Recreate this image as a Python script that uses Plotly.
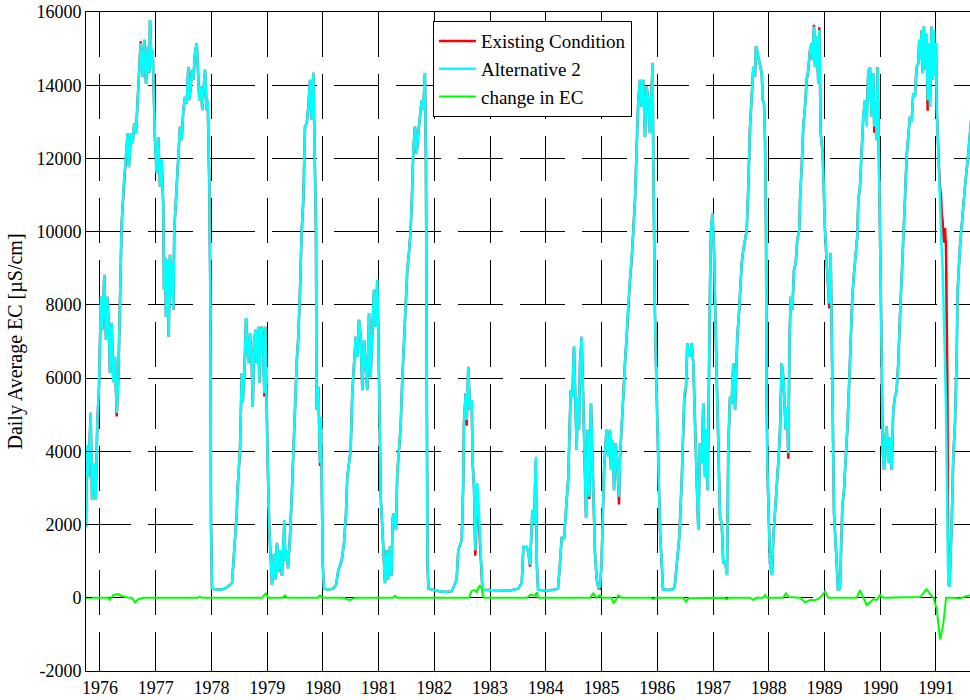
import plotly.graph_objects as go

# ---------------- data ----------------
# time in decimal years
years = [
    1975.749, 1975.762, 1975.790, 1975.833, 1975.857, 1975.892, 1975.923, 1975.952, 1975.982,
    1976.000, 1976.018, 1976.041, 1976.077, 1976.108, 1976.131, 1976.161, 1976.179, 1976.210,
    1976.239, 1976.269, 1976.300, 1976.328, 1976.346, 1976.371, 1976.389, 1976.431, 1976.467,
    1976.497, 1976.520, 1976.556, 1976.587, 1976.615, 1976.646, 1976.669, 1976.687, 1976.705,
    1976.730, 1976.766, 1976.795, 1976.825, 1976.861, 1976.885, 1976.897, 1976.928, 1976.946,
    1976.969, 1976.987, 1977.017, 1977.046, 1977.077, 1977.107, 1977.136, 1977.149, 1977.167,
    1977.184, 1977.208, 1977.233, 1977.256, 1977.279, 1977.305, 1977.315, 1977.333, 1977.376,
    1977.418, 1977.436, 1977.466, 1977.495, 1977.525, 1977.556, 1977.585, 1977.603, 1977.628,
    1977.651, 1977.674, 1977.705, 1977.736, 1977.754, 1977.782, 1977.813, 1977.836, 1977.867,
    1977.885, 1977.915, 1977.933, 1977.962, 1977.974, 1977.982, 1977.992, 1978.010, 1978.064,
    1978.153, 1978.243, 1978.333, 1978.369, 1978.393, 1978.454, 1978.465, 1978.501, 1978.513,
    1978.544, 1978.562, 1978.590, 1978.621, 1978.644, 1978.662, 1978.692, 1978.723, 1978.741,
    1978.764, 1978.795, 1978.813, 1978.841, 1978.859, 1978.884, 1978.908, 1978.931, 1978.949,
    1978.967, 1978.980, 1978.991, 1979.009, 1979.038, 1979.063, 1979.086, 1979.122, 1979.149,
    1979.176, 1979.203, 1979.230, 1979.266, 1979.289, 1979.307, 1979.329, 1979.350, 1979.373,
    1979.409, 1979.440, 1979.468, 1979.499, 1979.529, 1979.559, 1979.589, 1979.620, 1979.649,
    1979.679, 1979.710, 1979.738, 1979.769, 1979.799, 1979.828, 1979.846, 1979.858, 1979.876,
    1979.883, 1979.889, 1979.917, 1979.948, 1979.966, 1979.996, 1980.019, 1980.091, 1980.181,
    1980.235, 1980.276, 1980.337, 1980.378, 1980.414, 1980.437, 1980.473, 1980.498, 1980.527,
    1980.563, 1980.588, 1980.617, 1980.647, 1980.678, 1980.707, 1980.737, 1980.768, 1980.796,
    1980.827, 1980.857, 1980.886, 1980.917, 1980.947, 1980.976, 1980.994, 1981.012, 1981.037,
    1981.065, 1981.096, 1981.114, 1981.144, 1981.167, 1981.203, 1981.230, 1981.252, 1981.275,
    1981.311, 1981.334, 1981.365, 1981.395, 1981.424, 1981.454, 1981.490, 1981.514, 1981.544,
    1981.575, 1981.598, 1981.625, 1981.652, 1981.682, 1981.711, 1981.741, 1981.772, 1981.800,
    1981.831, 1981.849, 1981.861, 1981.876, 1981.893, 1982.011, 1982.190, 1982.316, 1982.400,
    1982.429, 1982.490, 1982.518, 1982.531, 1982.562, 1982.580, 1982.608, 1982.639, 1982.669,
    1982.687, 1982.711, 1982.734, 1982.770, 1982.806, 1982.836, 1982.863, 1983.000, 1983.179,
    1983.358, 1983.502, 1983.568, 1983.597, 1983.658, 1983.687, 1983.717, 1983.759, 1983.789,
    1983.820, 1983.838, 1983.861, 1983.985, 1984.111, 1984.218, 1984.254, 1984.285, 1984.326,
    1984.374, 1984.403, 1984.446, 1984.475, 1984.505, 1984.523, 1984.554, 1984.572, 1984.595,
    1984.613, 1984.643, 1984.672, 1984.703, 1984.721, 1984.751, 1984.780, 1984.810, 1984.841,
    1984.864, 1984.882, 1984.913, 1984.945, 1984.972, 1984.999, 1985.020, 1985.044, 1985.080,
    1985.092, 1985.121, 1985.151, 1985.169, 1985.200, 1985.223, 1985.254, 1985.282, 1985.313,
    1985.331, 1985.361, 1985.390, 1985.420, 1985.451, 1985.480, 1985.510, 1985.540, 1985.569,
    1985.600, 1985.630, 1985.659, 1985.689, 1985.720, 1985.748, 1985.779, 1985.809, 1985.838,
    1985.868, 1985.899, 1985.917, 1985.927, 1985.940, 1985.958, 1985.976, 1986.018, 1986.048,
    1986.079, 1986.102, 1986.192, 1986.282, 1986.312, 1986.348, 1986.395, 1986.438, 1986.467,
    1986.485, 1986.515, 1986.538, 1986.574, 1986.617, 1986.646, 1986.676, 1986.707, 1986.736,
    1986.766, 1986.797, 1986.825, 1986.856, 1986.886, 1986.904, 1986.927, 1986.945, 1986.963,
    1986.990, 1987.017, 1987.036, 1987.066, 1987.095, 1987.125, 1987.156, 1987.184, 1987.215,
    1987.251, 1987.274, 1987.305, 1987.332, 1987.364, 1987.395, 1987.413, 1987.436, 1987.466,
    1987.484, 1987.515, 1987.544, 1987.574, 1987.605, 1987.633, 1987.664, 1987.694, 1987.723,
    1987.753, 1987.771, 1987.789, 1987.813, 1987.843, 1987.874, 1987.892, 1987.915, 1987.933,
    1987.951, 1987.960, 1987.977, 1988.022, 1988.058, 1988.082, 1988.112, 1988.142, 1988.171,
    1988.202, 1988.232, 1988.261, 1988.304, 1988.327, 1988.351, 1988.372, 1988.394, 1988.423,
    1988.453, 1988.484, 1988.512, 1988.548, 1988.561, 1988.591, 1988.620, 1988.650, 1988.681,
    1988.709, 1988.740, 1988.770, 1988.788, 1988.812, 1988.830, 1988.860, 1988.889, 1988.907,
    1988.932, 1988.968, 1988.991, 1989.009, 1989.040, 1989.068, 1989.086, 1989.111, 1989.129,
    1989.147, 1989.171, 1989.219, 1989.242, 1989.278, 1989.296, 1989.320, 1989.350, 1989.381,
    1989.409, 1989.445, 1989.471, 1989.499, 1989.530, 1989.560, 1989.589, 1989.607, 1989.637,
    1989.668, 1989.696, 1989.727, 1989.757, 1989.786, 1989.804, 1989.816, 1989.847, 1989.875,
    1989.893, 1989.918, 1989.936, 1989.954, 1989.977, 1989.995, 1990.009, 1990.026, 1990.044,
    1990.068, 1990.086, 1990.116, 1990.145, 1990.175, 1990.206, 1990.234, 1990.265, 1990.295,
    1990.324, 1990.354, 1990.385, 1990.413, 1990.444, 1990.474, 1990.503, 1990.533, 1990.564,
    1990.592, 1990.623, 1990.653, 1990.682, 1990.700, 1990.725, 1990.743, 1990.761, 1990.784,
    1990.815, 1990.833, 1990.851, 1990.874, 1990.892, 1990.923, 1990.941, 1990.964, 1990.982,
    1991.001, 1991.013, 1991.031, 1991.042, 1991.055, 1991.073, 1991.091, 1991.103, 1991.119,
    1991.132, 1991.150, 1991.162, 1991.180, 1991.204, 1991.222, 1991.243, 1991.265, 1991.283,
    1991.311, 1991.342, 1991.372, 1991.390, 1991.431, 1991.490, 1991.521, 1991.580, 1991.611,
    1991.647,
]

# Alternative 2, daily average EC (uS/cm)
alt2_ec = [
    1930, 4170, 3300, 5050, 2670, 3680, 2670, 4770, 5760,
    6690, 8220, 7320, 8820, 7040, 8220, 7320, 6140, 7510,
    5890, 6580, 5050, 5950, 7320, 9230, 10230, 11410, 12140,
    12690, 11760, 12690, 12420, 12960, 12690, 13320, 13870, 14500,
    15150, 14230, 15240, 14050, 15060, 14340, 15780, 14500, 14960,
    13590, 12500, 11600, 12580, 11230, 11960, 10670, 8410, 9310,
    7670, 9230, 7130, 9370, 8220, 9150, 7860, 10050, 11230,
    12320, 12870, 12500, 13320, 13680, 13500, 14500, 13590, 13960,
    14420, 14150, 14880, 15150, 14500, 13590, 13960, 13320, 14050,
    14420, 13320, 13590, 11230, 9770, 7950, 2000, 250, 230,
    220, 250, 350, 400, 940, 2310, 2860, 3680, 4090,
    6140, 5320, 6140, 7640, 6850, 6410, 7230, 6410, 5210,
    7040, 7320, 6410, 7400, 5870, 7320, 7400, 6770, 5590,
    7400, 6140, 4940, 3680, 1850, 940, 350, 1200, 500,
    1500, 700, 1300, 600, 1400, 2120, 1000, 1300, 800,
    1660, 2760, 4130, 5140, 6410, 7130, 8410, 10050, 10870,
    12870, 12960, 13410, 14150, 13050, 14340, 12780, 12140, 9960,
    6140, 5140, 5760, 3680, 4940, 940, 250, 220, 250,
    350, 750, 1020, 1480, 2300, 3290, 3680, 4040, 5590,
    6580, 7130, 6580, 7590, 7130, 5670, 7040, 6410, 5670,
    7780, 6040, 7230, 8410, 7400, 8680, 7320, 4590, 2760,
    1940, 940, 400, 1300, 500, 1400, 600, 2190, 2300,
    1850, 3390, 4040, 4680, 5950, 7040, 7950, 8960, 9420,
    10050, 11000, 12300, 12870, 12140, 12690, 13140, 13590, 13320,
    14330, 11760, 6000, 1000, 250, 200, 160, 180, 500,
    1300, 1570, 3130, 4770, 5590, 4860, 6310, 5140, 5400,
    3680, 3030, 1300, 3130, 2120, 940, 220, 210, 200,
    200, 250, 400, 1390, 1390, 1220, 900, 2400, 2030,
    3850, 940, 220, 200, 210, 250, 940, 1660, 1600,
    2580, 3290, 5670, 5490, 6860, 5490, 4040, 5490, 4590,
    6410, 7130, 5320, 3680, 2190, 4590, 2760, 5320, 3680,
    2300, 1220, 500, 260, 300, 900, 2120, 3490, 4390,
    4590, 3850, 4590, 3490, 4310, 2940, 4220, 3680, 2760,
    3850, 4770, 5490, 6410, 7130, 8040, 8680, 9230, 9960,
    10870, 12320, 13590, 14150, 13410, 14150, 12590, 13960, 13590,
    12690, 13870, 14610, 12140, 10050, 7780, 6410, 3680, 1850,
    940, 230, 210, 230, 300, 940, 1660, 3210, 4590,
    5590, 5760, 6950, 6580, 6950, 6410, 4590, 3210, 1850,
    4220, 3680, 5320, 3290, 4590, 2940, 6690, 8410, 10050,
    10500, 9500, 7670, 6040, 4220, 2190, 2030, 940, 1020,
    620, 4130, 5490, 5300, 6410, 5140, 6140, 7130, 7780,
    8410, 9150, 9500, 9780, 10050, 11230, 12870, 13680, 14500,
    14230, 15060, 14950, 14780, 14600, 14320, 13590, 13500, 12500,
    9960, 5760, 3490, 940, 620, 1660, 2300, 2850, 3680,
    4590, 6410, 6040, 4590, 5200, 3950, 7040, 8220, 7860,
    8960, 9150, 9780, 10050, 10870, 11760, 12870, 13410, 14150,
    14420, 14960, 15150, 14690, 15600, 14500, 15330, 14050, 15510,
    12690, 12140, 10870, 10050, 9150, 8410, 8040, 9420, 7320,
    4590, 2300, 940, 210, 250, 1200, 2480, 2940, 3680,
    4590, 5950, 7130, 8220, 8870, 9320, 9870, 10870, 11230,
    12230, 13140, 13590, 12870, 14420, 13590, 14500, 13140, 14330,
    12870, 13590, 12500, 14500, 12320, 10870, 8590, 6410, 4040,
    3490, 4220, 4680, 3680, 4390, 3490, 5140, 5490, 5670,
    6410, 7670, 8680, 9780, 10870, 12050, 12500, 13140, 13000,
    13770, 13700, 14500, 14600, 15240, 14690, 15510, 14330, 15600,
    14420, 15420, 13590, 15150, 13410, 15600, 14150, 15510, 14240,
    15150, 13410, 12500, 12100, 11700, 10800, 10100, 9500, 9000,
    8400, 7500, 6500, 5200, 3000, 400, 300, 1200, 2040,
    3850, 4760, 6580, 8410, 9600, 10800, 11230, 12140, 12770,
    13300,
]

# Existing Condition, daily average EC (uS/cm)
existing_ec = [
    1930, 4170, 3300, 5050, 2670, 3680, 2670, 4770, 5760,
    6690, 8220, 7320, 8820, 7040, 8220, 7320, 6140, 7510,
    5890, 6580, 4950, 5950, 7320, 9230, 10230, 11300, 12140,
    12690, 11760, 12690, 12420, 12960, 12690, 13320, 14000, 14500,
    15200, 14230, 15240, 14050, 15060, 14340, 15780, 14500, 14960,
    13590, 12500, 11600, 12580, 11230, 11960, 10670, 8410, 9310,
    7670, 9230, 7130, 9370, 8220, 9150, 7860, 10050, 11230,
    12320, 12870, 12500, 13320, 13680, 13500, 14500, 13590, 13960,
    14420, 14150, 14880, 15150, 14500, 13590, 13960, 13320, 14050,
    14420, 13320, 13590, 11230, 9770, 7950, 2000, 250, 230,
    220, 250, 350, 400, 940, 2310, 2860, 3680, 4090,
    6140, 5320, 6140, 7640, 6850, 6410, 7230, 6410, 5210,
    7040, 7320, 6410, 7400, 5870, 7320, 7400, 6770, 5500,
    7400, 6140, 4940, 3680, 1850, 940, 350, 1200, 500,
    1500, 700, 1300, 600, 1400, 2000, 1000, 1300, 800,
    1660, 2760, 4130, 5140, 6410, 7130, 8410, 10050, 10870,
    12870, 12960, 13410, 14150, 13050, 14340, 12780, 12140, 9960,
    6140, 5140, 5760, 3600, 4940, 940, 250, 220, 250,
    350, 750, 1020, 1480, 2300, 3290, 3680, 4040, 5590,
    6580, 7130, 6580, 7590, 7130, 5670, 7040, 6410, 5670,
    7780, 6040, 7230, 8410, 7400, 8680, 7320, 4590, 2760,
    1940, 940, 400, 1300, 500, 1400, 600, 2190, 2300,
    1850, 3390, 4040, 4680, 5950, 7040, 7950, 8960, 9420,
    10050, 11000, 12300, 12870, 12140, 12690, 13140, 13590, 13320,
    14330, 11760, 6000, 1000, 250, 200, 160, 180, 500,
    1300, 1570, 3130, 4770, 5590, 4700, 6310, 5140, 5400,
    3680, 3030, 1150, 2900, 1850, 800, 220, 210, 200,
    200, 250, 400, 1390, 1390, 1220, 850, 2400, 2030,
    3750, 940, 220, 200, 210, 250, 940, 1660, 1600,
    2580, 3290, 5670, 5490, 6860, 5490, 4040, 5490, 4590,
    6410, 7130, 5320, 3680, 2190, 4590, 2700, 5320, 3680,
    2300, 1220, 500, 260, 250, 900, 2120, 3490, 4390,
    4590, 3850, 4590, 3490, 4310, 2940, 4220, 3680, 2550,
    3800, 4770, 5490, 6410, 7130, 8040, 8680, 9230, 9960,
    10870, 12320, 13590, 14150, 13410, 14150, 12590, 13960, 13590,
    12690, 13870, 14610, 12140, 10050, 7780, 6410, 3680, 1850,
    940, 230, 210, 230, 300, 940, 1660, 3210, 4590,
    5450, 5760, 6950, 6580, 6950, 6410, 4590, 3210, 1850,
    4220, 3680, 5320, 3290, 4590, 2940, 6690, 8410, 10050,
    10500, 9500, 7670, 6040, 4220, 2190, 2030, 940, 1020,
    620, 4130, 5490, 5300, 6410, 5140, 6140, 7130, 7780,
    8410, 9150, 9500, 9780, 10050, 11230, 12870, 13680, 14500,
    14230, 15060, 14950, 14780, 14600, 14320, 13590, 13500, 12500,
    9960, 5760, 3490, 940, 620, 1660, 2300, 2850, 3680,
    4590, 6410, 6040, 4590, 5200, 3800, 7040, 8220, 7860,
    8960, 9150, 9780, 10050, 10870, 11760, 12870, 13410, 14150,
    14420, 14960, 15150, 14690, 15650, 14500, 15330, 14050, 15580,
    12690, 12140, 10870, 10050, 9150, 8410, 7900, 9420, 7320,
    4590, 2300, 940, 210, 250, 1200, 2480, 2940, 3680,
    4590, 5950, 7130, 8220, 8870, 9320, 9870, 10870, 11230,
    12230, 13140, 13590, 13070, 14420, 13590, 14500, 13140, 14330,
    12700, 13590, 12500, 14500, 12320, 10870, 8590, 6410, 4040,
    3490, 4220, 4680, 3680, 4390, 3490, 5140, 5490, 5670,
    6410, 7670, 8680, 9780, 10870, 12050, 12500, 13140, 13000,
    13770, 13700, 14500, 14600, 15240, 14690, 15510, 14330, 15600,
    14420, 15200, 13300, 15150, 13410, 15600, 14150, 15510, 14240,
    15150, 13410, 12500, 12300, 11760, 11200, 11000, 10500, 10300,
    9900, 9700, 10100, 9600, 6000, 400, 300, 1200, 2040,
    3850, 4760, 6580, 8410, 9600, 10800, 11230, 12140, 12770,
    13300,
]

# change in EC (Alternative 2 minus Existing Condition), uS/cm
change_years = [
    1975.749, 1976.144, 1976.179, 1976.239, 1976.328, 1976.389, 1976.502, 1976.574, 1976.628,
    1976.687, 1976.777, 1977.758, 1977.794, 1977.830, 1978.907, 1978.974, 1979.020, 1979.283,
    1979.319, 1979.355, 1979.912, 1979.948, 1979.984, 1980.378, 1980.426, 1980.486, 1980.558,
    1980.630, 1981.258, 1981.294, 1981.330, 1982.621, 1982.669, 1982.729, 1982.760, 1982.792,
    1982.818, 1982.849, 1982.867, 1982.890, 1983.664, 1983.717, 1983.807, 1983.838, 1983.861,
    1984.794, 1984.853, 1984.902, 1984.972, 1985.008, 1985.182, 1985.211, 1985.250, 1985.300,
    1985.349, 1985.887, 1985.927, 1985.976, 1986.467, 1986.515, 1986.557, 1986.766, 1987.197,
    1987.245, 1987.287, 1987.664, 1987.723, 1987.771, 1987.897, 1987.933, 1987.969, 1988.256,
    1988.309, 1988.363, 1988.561, 1988.650, 1988.740, 1988.830, 1988.901, 1988.950, 1989.009,
    1989.068, 1989.578, 1989.637, 1989.691, 1989.757, 1989.816, 1989.875, 1989.936, 1989.995,
    1990.049, 1990.592, 1990.712, 1990.833, 1990.892, 1990.952, 1991.013, 1991.046, 1991.073,
    1991.103, 1991.132, 1991.162, 1991.180, 1991.311, 1991.431, 1991.551, 1991.611, 1991.647,
]
change_ec = [
    0, 0, -60, 80, 100, 50, 10, 0, -125,
    -40, 0, 0, 30, 0, 0, 120, 0, 0,
    60, 0, 0, 60, 0, 0, -40, -60, -10,
    0, 0, 50, 0, 0, 190, 210, 140, 280,
    330, 260, 80, 0, 0, 80, 60, 150, 0,
    0, 120, 0, 75, 0, 0, -150, -80, 60,
    0, 0, -40, 0, 0, -105, -10, 0, 0,
    -40, 0, 0, -60, 0, 0, 75, 0, 0,
    120, 20, 0, -125, -60, -70, -20, 50, 170,
    0, 0, 210, 40, -200, -120, -40, -60, 75,
    0, 0, 20, 230, 120, 0, -290, -700, -1135,
    -950, -700, -300, 0, 0, -20, 50, 70, 70,
]

x_tick_years = list(range(1976, 1992))
y_tick_values = [-2000, 0, 2000, 4000, 6000, 8000, 10000, 12000, 14000, 16000]
x_range = [1975.749, 1991.611]
y_range = [-2000, 16000]

# ---------------- figure ----------------
FONT = "Liberation Serif, Times New Roman, serif"

fig = go.Figure()
fig.add_trace(go.Scatter(x=years, y=existing_ec, mode="lines", name="Existing Condition",
                         line=dict(color="#ff0000", width=2.5)))
fig.add_trace(go.Scatter(x=years, y=alt2_ec, mode="lines", name="Alternative 2",
                         line=dict(color="#00ffff", width=2.5)))
fig.add_trace(go.Scatter(x=change_years, y=change_ec, mode="lines", name="change in EC",
                         line=dict(color="#00ff00", width=2)))

axis_common = dict(showgrid=True, gridcolor="black", gridwidth=1, griddash="45px,17px",
                   zeroline=False, showline=True, linecolor="black", linewidth=1,
                   ticks="inside", ticklen=6, tickcolor="black", ticklabeloverflow="allow",
                   tickfont=dict(family=FONT, size=18, color="black"))

fig.update_xaxes(range=x_range, tickmode="array", tickvals=x_tick_years,
                 ticktext=[str(y) for y in x_tick_years], mirror="ticks", **axis_common)
fig.update_yaxes(range=y_range, tickmode="array", tickvals=y_tick_values,
                 ticktext=[str(v) for v in y_tick_values], mirror=False,
                 title=dict(text="Daily Average EC [\u00b5S/cm]",
                            font=dict(family=FONT, size=20, color="black"), standoff=8),
                 **axis_common)

fig.update_layout(
    width=970, height=700,
    margin=dict(l=86, r=0, t=12, b=29, autoexpand=False),
    paper_bgcolor="white", plot_bgcolor="white",
    font=dict(family=FONT, size=18, color="black"),
    showlegend=True,
    legend=dict(x=0.3925, y=0.986, xanchor="left", yanchor="top",
                bgcolor="white", bordercolor="black", borderwidth=1,
                font=dict(family=FONT, size=19, color="black"),
                tracegroupgap=0, itemwidth=37),
)

# remove the default page margin so the 970x700 figure fills the window exactly
fig.write_html("out.html",
               config={"displayModeBar": False},
               post_script="document.body.style.margin='0';document.body.style.overflow='hidden';")
